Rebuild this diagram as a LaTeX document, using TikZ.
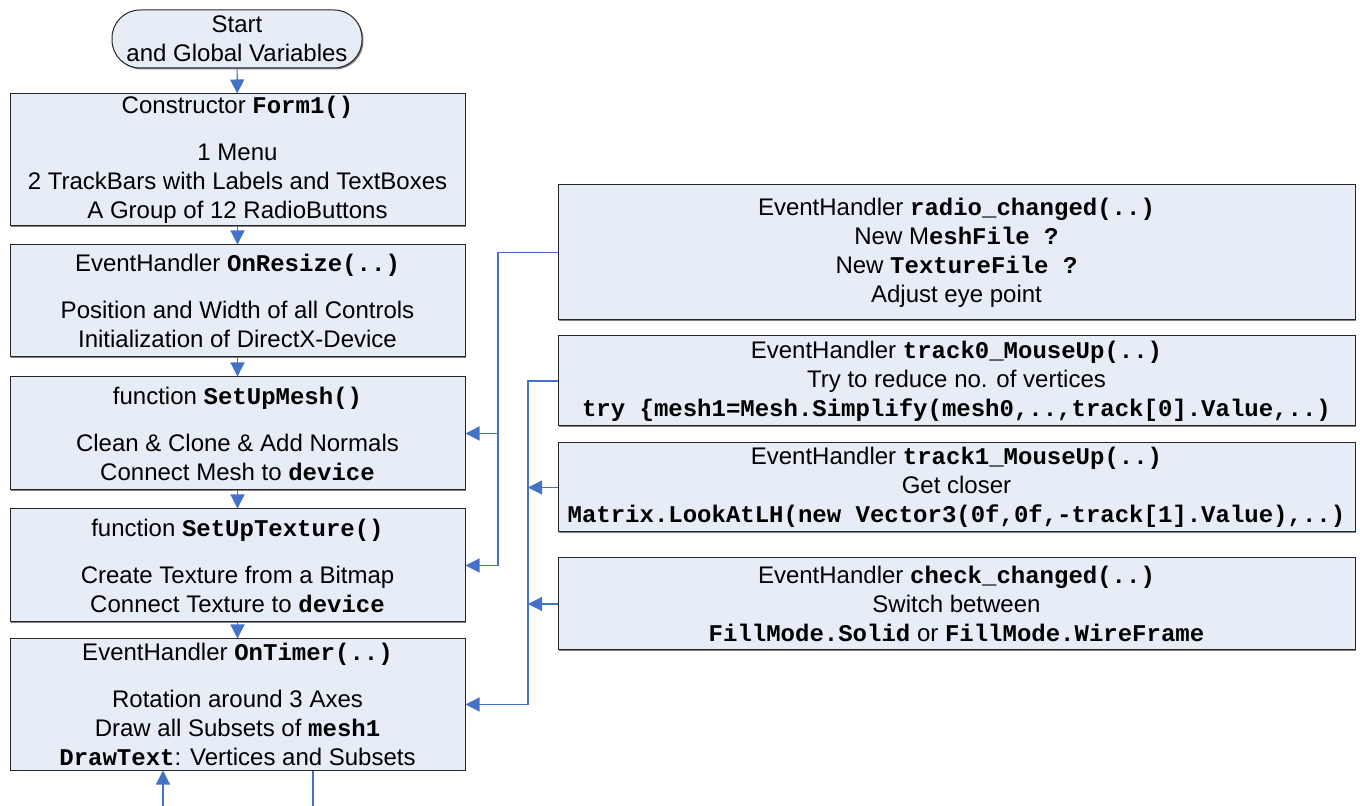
\documentclass[tikz,border=0pt]{standalone}
\usepackage{fontspec}
\setmainfont{Liberation Sans}
\newfontfamily\codefont{Liberation Mono}
\usetikzlibrary{arrows.meta, positioning, shadows}
\definecolor{boxfill}{RGB}{230,237,247}
\definecolor{lblue}{RGB}{68,114,196}
\newcommand{\code}[1]{{\codefont\bfseries #1}}

\begin{document}
\begin{tikzpicture}[x=0.5pt, y=-0.5pt,
  box/.style={rectangle, draw=black!85, fill=boxfill, line width=0.5pt,
              drop shadow={shadow xshift=0.7pt, shadow yshift=-0.7pt, fill=black!50, opacity=1},
              font=\fontsize{12}{14.5}\selectfont, align=center, inner sep=0pt},
  term/.style={box, rounded corners=14pt},
  arr/.style={-{Triangle[length=7pt,width=7pt]}, lblue, line width=0.6pt},
  link/.style={lblue, line width=0.6pt}
]
\useasboundingbox (0,0) rectangle (1360,806);

% main sequence
\node[term, minimum width=125pt, minimum height=29pt] (start) at (237,39)
  {Start\\and Global Variables};
\node[box, minimum width=227.5pt, minimum height=66pt] (form) at (237.5,160)
  {Constructor \code{Form1()}\\[9pt]1 Menu\\2 TrackBars with Labels and TextBoxes\\A Group of 12 RadioButtons};
\node[box, minimum width=227.5pt, minimum height=56pt] (resize) at (237.5,301)
  {EventHandler \code{OnResize(..)}\\[9pt]Position and Width of all Controls\\Initialization of DirectX-Device};
\node[box, minimum width=227.5pt, minimum height=56.5pt] (mesh) at (237.5,433.5)
  {function \code{SetUpMesh()}\\[9pt]Clean \& Clone \& Add Normals\\Connect Mesh to \code{device}};
\node[box, minimum width=227.5pt, minimum height=56.5pt] (texture) at (237.5,565.5)
  {function \code{SetUpTexture()}\\[9pt]Create Texture from a Bitmap\\Connect Texture to \code{device}};
\node[box, minimum width=227.5pt, minimum height=65.5pt] (timer) at (237.5,704.5)
  {EventHandler \code{OnTimer(..)}\\[9pt]Rotation around 3 Axes\\Draw all Subsets of \code{mesh1}\\\code{DrawText}: Vertices and Subsets};

% event handlers
\node[box, minimum width=398.5pt, minimum height=67.5pt] (radio) at (956.5,252.5)
  {EventHandler \code{radio\_changed(..)}\\New M\code{eshFile ?}\\New \code{TextureFile ?}\\Adjust eye point};
\node[box, minimum width=398.5pt, minimum height=45pt] (trackA) at (956.5,381)
  {EventHandler \code{track0\_MouseUp(..)}\\Try to reduce no. of vertices\\\code{try \{mesh1=Mesh.Simplify(mesh0,..,track[0].Value,..)}};
\node[box, minimum width=398.5pt, minimum height=44.5pt] (trackB) at (956.5,487.5)
  {EventHandler \code{track1\_MouseUp(..)}\\Get closer\\\code{Matrix.LookAtLH(new Vector3(0f,0f,-track[1].Value),..)}};
\node[box, minimum width=398.5pt, minimum height=46pt] (check) at (956.5,604)
  {EventHandler \code{check\_changed(..)}\\Switch between\\\code{FillMode.Solid} or \code{FillMode.WireFrame}};

\draw[arr] (start) -- (form);
\draw[arr] (form) -- (resize);
\draw[arr] (resize) -- (mesh);
\draw[arr] (mesh) -- (texture);
\draw[arr] (texture) -- (timer);

% feedback lines
\coordinate (busA) at (498,252.5);
\coordinate (busB) at (528,381);
\draw[arr] (radio.west) -- (busA) |- (texture.east);
\draw[arr] (busA |- mesh.east) -- (mesh.east);
\draw[arr] (trackA.west) -- (busB) |- (timer.east);
\draw[arr] (trackB.west) -- (busB |- trackB.west);
\draw[arr] (check.west) -- (busB |- check.west);

\coordinate (loopin) at (163,806);
\coordinate (loopout) at (313,806);
\draw[arr] (loopin) -- (loopin |- timer.south);
\draw[link] (timer.south -| loopout) -- (loopout);
\end{tikzpicture}
\end{document}
